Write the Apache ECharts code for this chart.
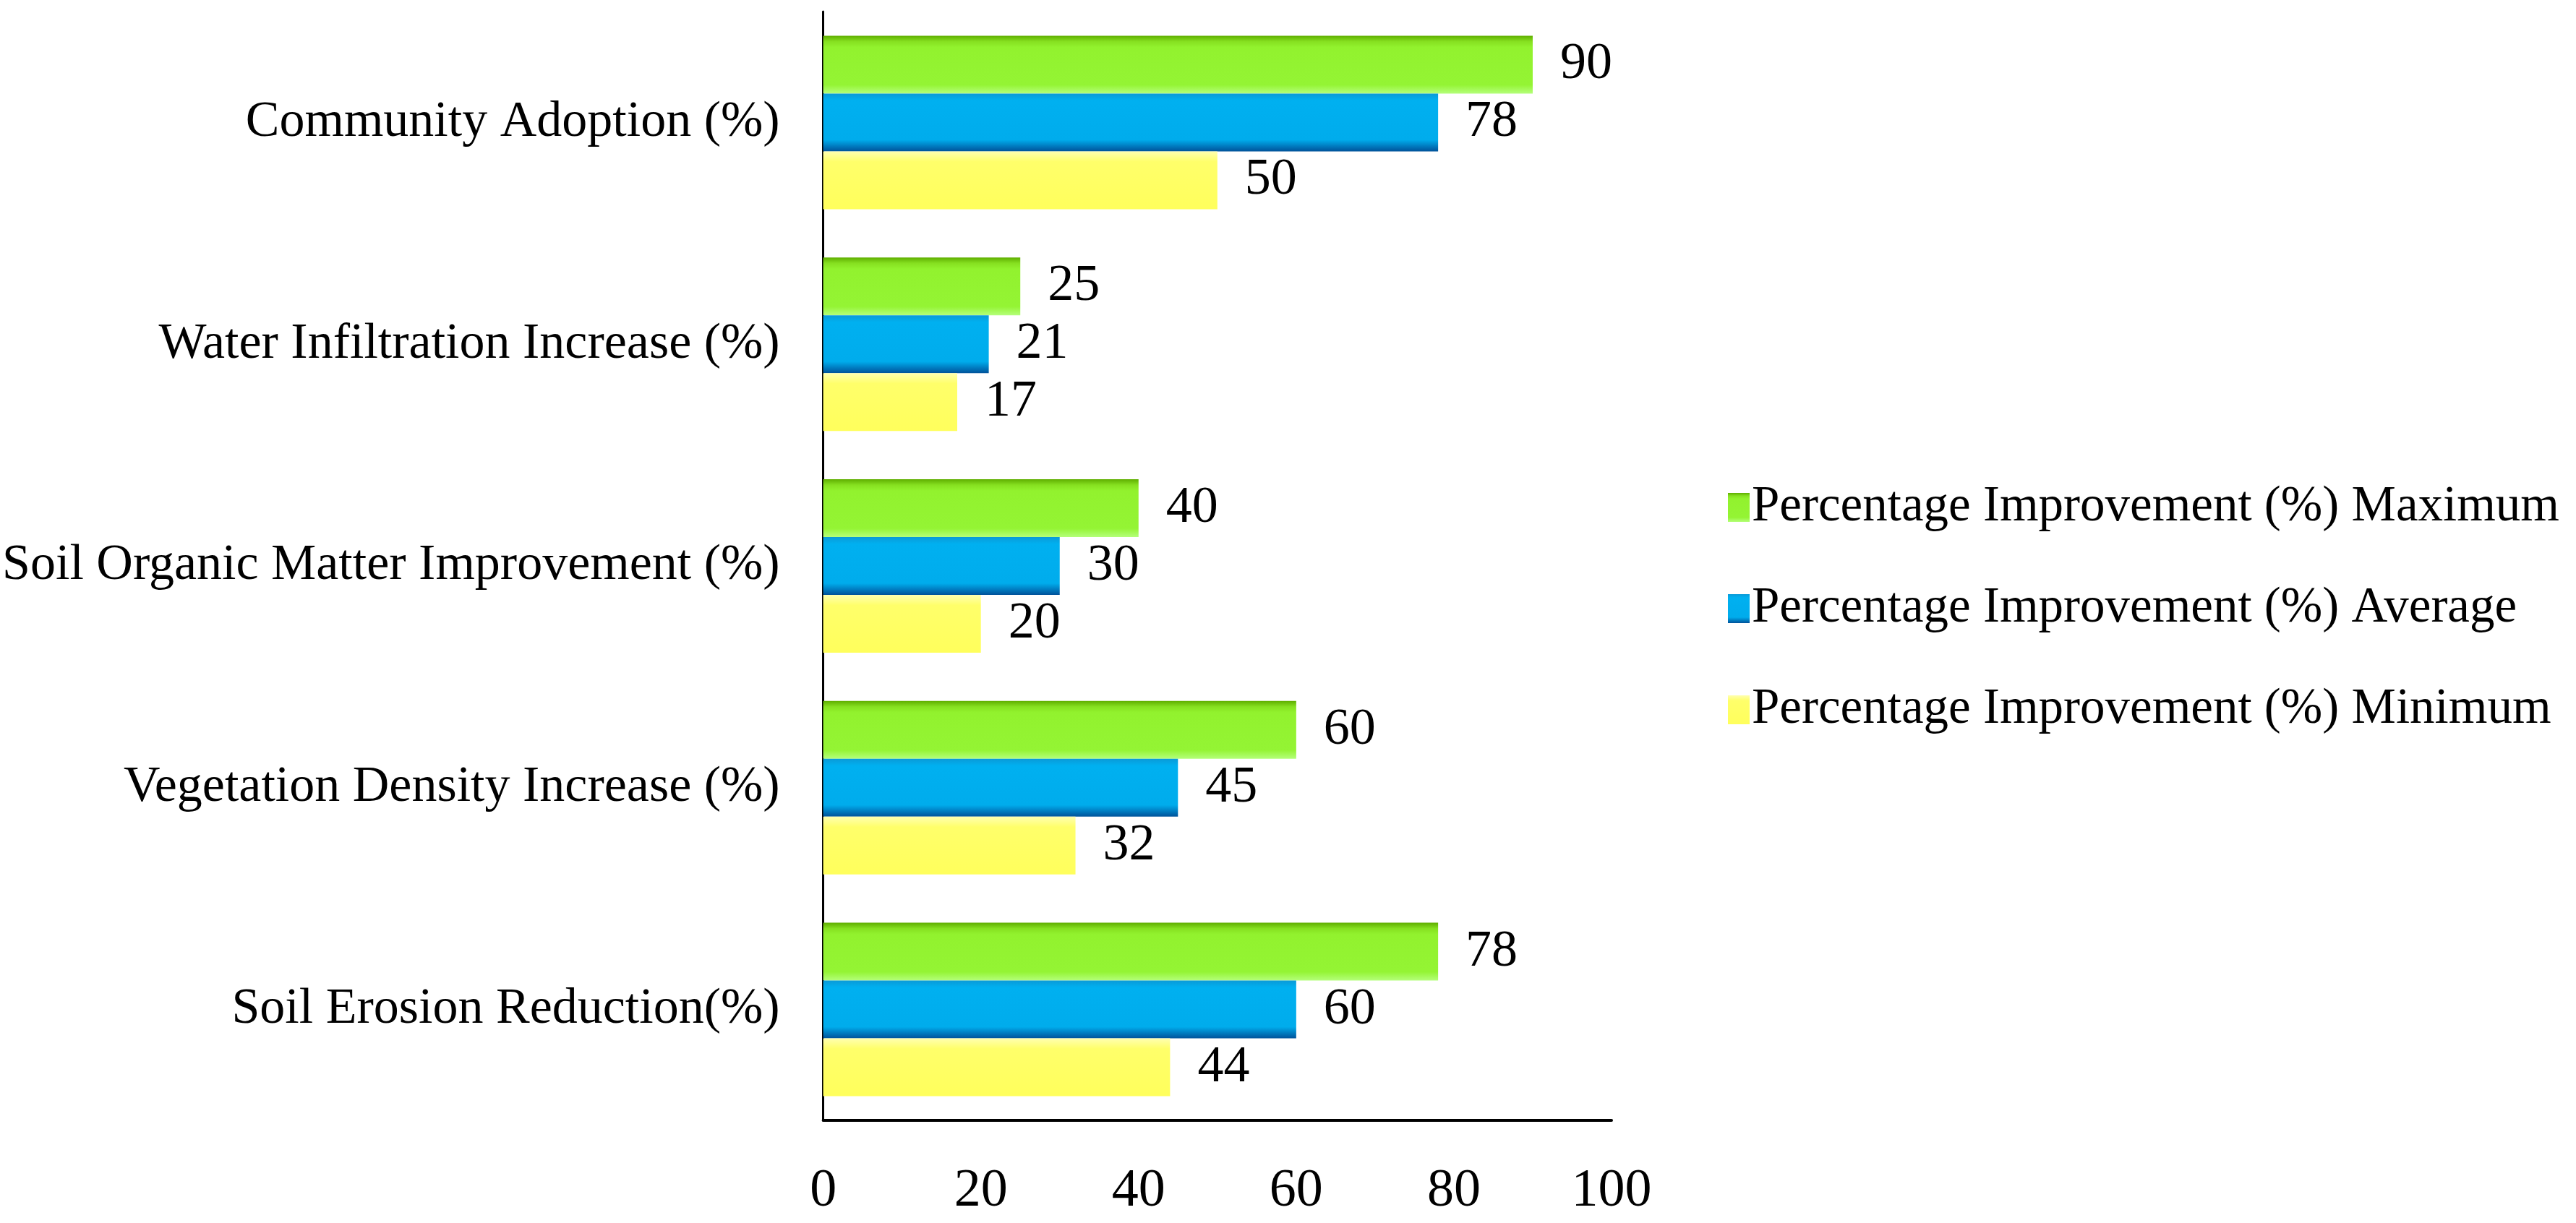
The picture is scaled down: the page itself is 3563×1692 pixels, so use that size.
<!DOCTYPE html>
<html>
<head>
<meta charset="utf-8">
<script src="https://cdn.jsdelivr.net/npm/echarts@6/dist/echarts.min.js"></script>
<style>
html,body{margin:0;padding:0;background:#fff;}
#chart{width:3563px;height:1692px;}
</style>
</head>
<body>
<div id="chart"></div>
<script>
const categories = ['Soil Erosion Reduction(%)', 'Vegetation Density Increase (%)', 'Soil Organic Matter Improvement (%)', 'Water Infiltration Increase (%)', 'Community Adoption (%)'];
const seriesNames = ['Percentage Improvement (%) Maximum', 'Percentage Improvement (%) Average', 'Percentage Improvement (%) Minimum'];
const maximumValues = [78, 60, 40, 25, 90];
const averageValues = [60, 45, 30, 21, 78];
const minimumValues = [44, 32, 20, 17, 50];
const xTicks = [0, 20, 40, 60, 80, 100];

const FONT = '"Liberation Serif", "Times New Roman", serif';
function grad(stops){
  return new echarts.graphic.LinearGradient(0, 0, 0, 1, stops.map(s => ({offset: s[0], color: s[1]})));
}
const greenFill = grad([[0,'#5fae00'],[0.1,'#86e020'],[0.2,'#92f22e'],[0.85,'#94f434'],[1,'#b4ff7a']]);
const blueFill = grad([[0,'#0a9ad8'],[0.12,'#00b0f0'],[0.8,'#00acec'],[1,'#00529a']]);
const yellowFill = grad([[0,'#ffffb0'],[0.18,'#ffff6a'],[1,'#ffff5c']]);

const labelStyle = {show: true, position: 'right', distance: 38, fontFamily: FONT, fontSize: 72, color: '#000'};

const chart = echarts.init(document.getElementById('chart'), null, {renderer: 'canvas'});
chart.setOption({
  animation: false,
  backgroundColor: '#fff',
  grid: {left: 1132, right: 1334, top: 16, bottom: 142, containLabel: false},
  xAxis: {
    type: 'value', min: 0, max: 100, interval: 20,
    axisLine: {show: true, lineStyle: {color: '#000', width: 4}},
    axisTick: {show: false},
    splitLine: {show: false},
    axisLabel: {fontFamily: FONT, fontSize: 74, color: '#000', margin: 62,
      formatter: v => xTicks.includes(v) ? String(v) : ''}
  },
  yAxis: {
    type: 'category', data: categories,
    axisLine: {show: true, lineStyle: {color: '#000', width: 3}},
    axisTick: {show: false},
    axisLabel: {fontFamily: FONT, fontSize: 70, color: '#000', margin: 60}
  },
  legend: {
    orient: 'vertical', left: 2385, top: 662,
    data: seriesNames,
    icon: 'rect', itemWidth: 30, itemHeight: 40, itemGap: 70,
    textStyle: {fontFamily: FONT, fontSize: 69, color: '#000', lineHeight: 70, padding: [0,0,0,-2]}
  },
  series: [
    {name: seriesNames[0], type: 'bar', data: maximumValues, barWidth: 80, barGap: '0%', barCategoryGap: '22%',
     itemStyle: {color: greenFill}, label: labelStyle},
    {name: seriesNames[1], type: 'bar', data: averageValues, barWidth: 80, barGap: '0%',
     itemStyle: {color: blueFill}, label: labelStyle},
    {name: seriesNames[2], type: 'bar', data: minimumValues, barWidth: 80, barGap: '0%',
     itemStyle: {color: yellowFill}, label: labelStyle}
  ]
});
</script>
</body>
</html>
